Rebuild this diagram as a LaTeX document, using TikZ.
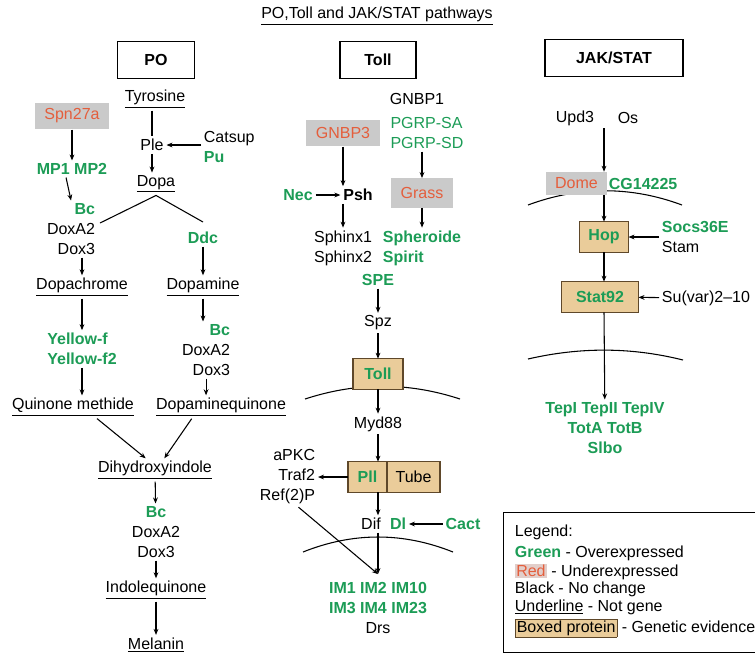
\documentclass[tikz,border=0pt]{standalone}
\usepackage{fontspec}
\setmainfont{Liberation Sans}
\usepackage{tikz}
\usetikzlibrary{arrows.meta,backgrounds,fit,positioning}
\definecolor{greeni}{RGB}{28,156,86}
\definecolor{redi}{RGB}{228,94,60}
\definecolor{grayi}{RGB}{202,202,202}
\definecolor{tani}{RGB}{234,204,154}
\definecolor{browni}{RGB}{95,72,42}
\definecolor{redhl}{RGB}{226,206,202}
\newcommand{\diafont}{\fontsize{12}{15}\selectfont}
\tikzset{
      txt/.style={
        inner sep=2pt,
        align=center
      },
      gene/.style={
        txt,
        text=greeni,
        font=\diafont\bfseries
      },
      hdrbox/.style={
        draw,
        line width=1pt,
        minimum height=27.5pt,
        inner sep=0pt,
        font=\diafont\bfseries
      },
      lowbox/.style 2 args={
        fill=grayi,
        text=redi,
        minimum width=#1,
        minimum height=#2,
        inner sep=0pt
      },
      protbox/.style={
        draw=browni,
        fill=tani,
        line width=0.8pt,
        text=greeni,
        font=\diafont\bfseries,
        minimum height=23pt,
        inner sep=0pt,
        outer sep=0pt
      },
      conn/.style={line width=0.8pt},
      arr/.style={conn,-{Stealth[length=4.5pt,width=3.6pt]}},
      membrane/.style={line width=0.8pt},
      legframe/.style={draw,line width=0.6pt,inner sep=0pt},
    }
\begin{document}
\begin{tikzpicture}[x=0.75pt,y=-0.75pt,font=\diafont]
          \useasboundingbox (0,0) rectangle (755,654);

          \node[txt] (title) at (377,16) {\underline{PO,Toll and JAK/STAT pathways}};
          \node[hdrbox,minimum width=57.75pt] (pohdr) at (156,60) {PO};
          \node[hdrbox,minimum width=57pt] (tollhdr) at (378,60) {Toll};
          \node[hdrbox,minimum width=103.5pt] (jakhdr) at (614,58) {JAK/STAT};

          % PO
          \node[txt] (tyr) at (155,99) {\underline{Tyrosine}};
          \node[lowbox={56pt}{20pt}] (spn) at (72,116) {Spn27a};
          \node[txt] (ple) at (152,145) {Ple};
          \node[txt,align=left,anchor=west] (catsup) at (201,147)
            {Catsup\\\textcolor{greeni}{\textbf{Pu}}};
          \node[gene] (mp) at (72,169) {MP1 MP2};
          \node[txt] (dopa) at (156,184) {\underline{Dopa}};
          \node[txt,align=right,anchor=east] (doxl) at (98,229)
            {\textcolor{greeni}{\textbf{Bc}}\\DoxA2\\Dox3};
          \coordinate (forkl) at (100,223);
          \coordinate (forkr) at (203,222);
          \node[gene] (ddc) at (203,238) {Ddc};
          \node[txt] (dopachr) at (82,287) {\underline{Dopachrome}};
          \node[txt] (dopamine) at (203,287) {\underline{Dopamine}};
          \node[gene,align=left] (yellow) at (82,349) {Yellow-f\\Yellow-f2};
          \node[txt,align=right,anchor=east] (doxr) at (233,350)
            {\textcolor{greeni}{\textbf{Bc}}\\DoxA2\\Dox3};
          \node[txt] (quinone) at (73,407) {\underline{Quinone methide}};
          \node[txt] (dopaq) at (221,407) {\underline{Dopaminequinone}};
          \node[txt] (dihyd) at (155,470) {\underline{Dihydroxyindole}};
          \node[txt] (doxc) at (156,532)
            {\textcolor{greeni}{\textbf{Bc}}\\DoxA2\\Dox3};
          \node[txt] (indole) at (156,590) {\underline{Indolequinone}};
          \node[txt] (melanin) at (156,645) {\underline{Melanin}};

          \draw[arr] (spn) -- (mp);
          \draw[conn] (tyr.south -| ple) -- (ple);
          \draw[arr] (ple) -- (ple |- dopa.north);
          \draw[arr] (catsup.west |- ple) -- (ple);
          \draw[arr] (mp.235) -- (doxl.north);
          \draw[conn] (forkl) -- (dopa.south) -- (forkr);
          \draw[arr] (doxl.south -| dopachr) -- (dopachr);
          \draw[arr] (dopachr) -- (yellow);
          \draw[arr] (yellow) -- (yellow |- quinone.north);
          \draw[arr] (ddc) -- (dopamine);
          \draw[arr] (dopamine) -- (dopamine |- doxr.north);
          \draw[arr] (doxr) -- (doxr |- dopaq.north);
          \draw[arr] ([xshift=18pt]quinone.south) -- ([xshift=-7pt]dihyd.north);
          \draw[arr] ([xshift=-22pt]dopaq.south) -- ([xshift=7pt]dihyd.north);
          \draw[arr] (dihyd) -- (doxc);
          \draw[arr] (doxc) -- (indole);
          \draw[arr] (indole) -- (melanin);

          % Toll
          \node[txt] (gnbp1) at (417,99) {GNBP1};
          \node[lowbox={55.5pt}{20pt}] (gnbp3) at (343,133) {GNBP3};
          \node[txt,text=greeni,align=left] (pgrp) at (427,133) {PGRP-SA\\PGRP-SD};
          \node[lowbox={46pt}{22pt}] (grass) at (422,193) {Grass};
          \node[gene] (nec) at (298,195) {Nec};
          \node[txt,font=\diafont\bfseries] (psh) at (358,195) {Psh};
          \node[txt] (sphinx) at (343,248) {Sphinx1\\Sphinx2};
          \node[gene,align=left] (spher) at (422,248) {Spheroide\\Spirit};
          \node[gene] (spe) at (378,280) {SPE};
          \node[txt] (spz) at (378,323) {Spz};
          \node[protbox,minimum width=37.5pt] (toll) at (378,374) {Toll};
          \node[txt] (myd) at (378,424) {Myd88};
          \node[protbox,minimum width=29.25pt] (pll) at (367.5,477) {Pll};
          \node[protbox,minimum width=39.75pt,text=black,font=\diafont,right=0pt of pll]
            (tube) {Tube};
          \node[txt,align=right,anchor=east] (traf) at (318,477) {aPKC\\Traf2\\Ref(2)P};
          \node[txt] (dif) at (371,524) {Dif};
          \node[gene] (dl) at (398,524) {Dl};
          \node[gene] (cact) at (463,524) {Cact};
          \node[txt,inner ysep=6pt] (im) at (378,608)
            {\textcolor{greeni}{\textbf{IM1 IM2 IM10}}\\\textcolor{greeni}{\textbf{IM3 IM4 IM23}}\\Drs};

          \draw[arr] (gnbp3) -- (gnbp3 |- psh.north);
          \draw[arr] (nec) -- (psh);
          \draw[arr] (psh.south -| gnbp3) -- (sphinx);
          \draw[arr] (pgrp.south -| grass) -- (grass);
          \draw[arr] (grass) -- (grass |- spher.north);
          \draw[arr] (spe) -- (spz);
          \draw[arr] (spz) -- (toll);
          \draw[arr] (toll) -- (myd);
          \draw[arr] (myd) -- (myd |- pll.north);
          \draw[arr] (pll.west) -- (traf.east |- pll.west);
          \draw[arr] (pll.south -| myd) -- (myd |- dif.north);
          \draw[arr] (dif.south -| myd) -- (im);
          \draw[arr] (traf.-70) -- (im.north);
          \draw[arr] (cact) -- (dl);

          % JAK/STAT
          \node[txt] (upd) at (575,118) {Upd3};
          \node[txt] (os) at (628,118) {Os};
          \node[lowbox={45.75pt}{17.25pt}] (dome) at (576.5,183.5) {Dome};
          \node[gene,anchor=west,inner xsep=1pt] (cg) at (dome.east) {CG14225};
          \node[protbox,minimum width=36.75pt] (hop) at (604,237) {Hop};
          \node[txt,align=left,anchor=west] (socs) at (659,237)
            {\textcolor{greeni}{\textbf{Socs36E}}\\Stam};
          \node[protbox,minimum width=57.75pt] (stat) at (600,297) {Stat92};
          \node[txt,anchor=west] (suvar) at (659,298) {Su(var)2--10};
          \node[gene] (tep) at (605,428) {TepI TepII TepIV\\TotA TotB\\Slbo};

          \draw[arr] (hop |- upd.south) -- (hop |- dome.north);
          \draw[arr] (hop |- dome.south) -- (hop);
          \draw[arr] (socs.west |- hop) -- (hop);
          \draw[arr] (hop) -- (hop |- stat.north);
          \draw[arr] (suvar) -- (stat);
          \draw[arr] (stat.south -| hop) -- (tep);

          \begin{pgfonlayer}{background}
            \draw[membrane] (305,399) .. controls (357,382) and (408,382) .. (460,399);
            \draw[membrane] (303,552) .. controls (353,532) and (403,532) .. (453,552);
            \draw[membrane] (528,205) .. controls (579,186) and (631,186) .. (682,205);
            \draw[membrane] (528,359) .. controls (580,347) and (631,347) .. (683,360);
          \end{pgfonlayer}

          % legend
          \node[txt,anchor=west] (leg0) at (512,532) {Legend:};
          \node[txt,anchor=west] (leg1) at (512,553)
            {\textcolor{greeni}{\textbf{Green}} - Overexpressed};
          \node[txt,anchor=west] (leg2) at (512,572)
            {{\fboxsep=1pt\colorbox{redhl}{\textcolor{redi}{Red}}} - Underexpressed};
          \node[txt,anchor=west] (leg3) at (512,589) {Black - No change};
          \node[txt,anchor=west] (leg4) at (512,607) {\underline{Underline} - Not gene};
          \node[txt,anchor=west] (leg5) at (512,628)
            {{\fboxsep=1pt\fcolorbox{browni}{tani}{Boxed protein}} - Genetic evidence};
          \coordinate (legtl) at (503,512);
          \coordinate (legbr) at (762,652);
          \node[legframe,fit={(legtl) (legbr)}] (legend) {};
\end{tikzpicture}
\end{document}
